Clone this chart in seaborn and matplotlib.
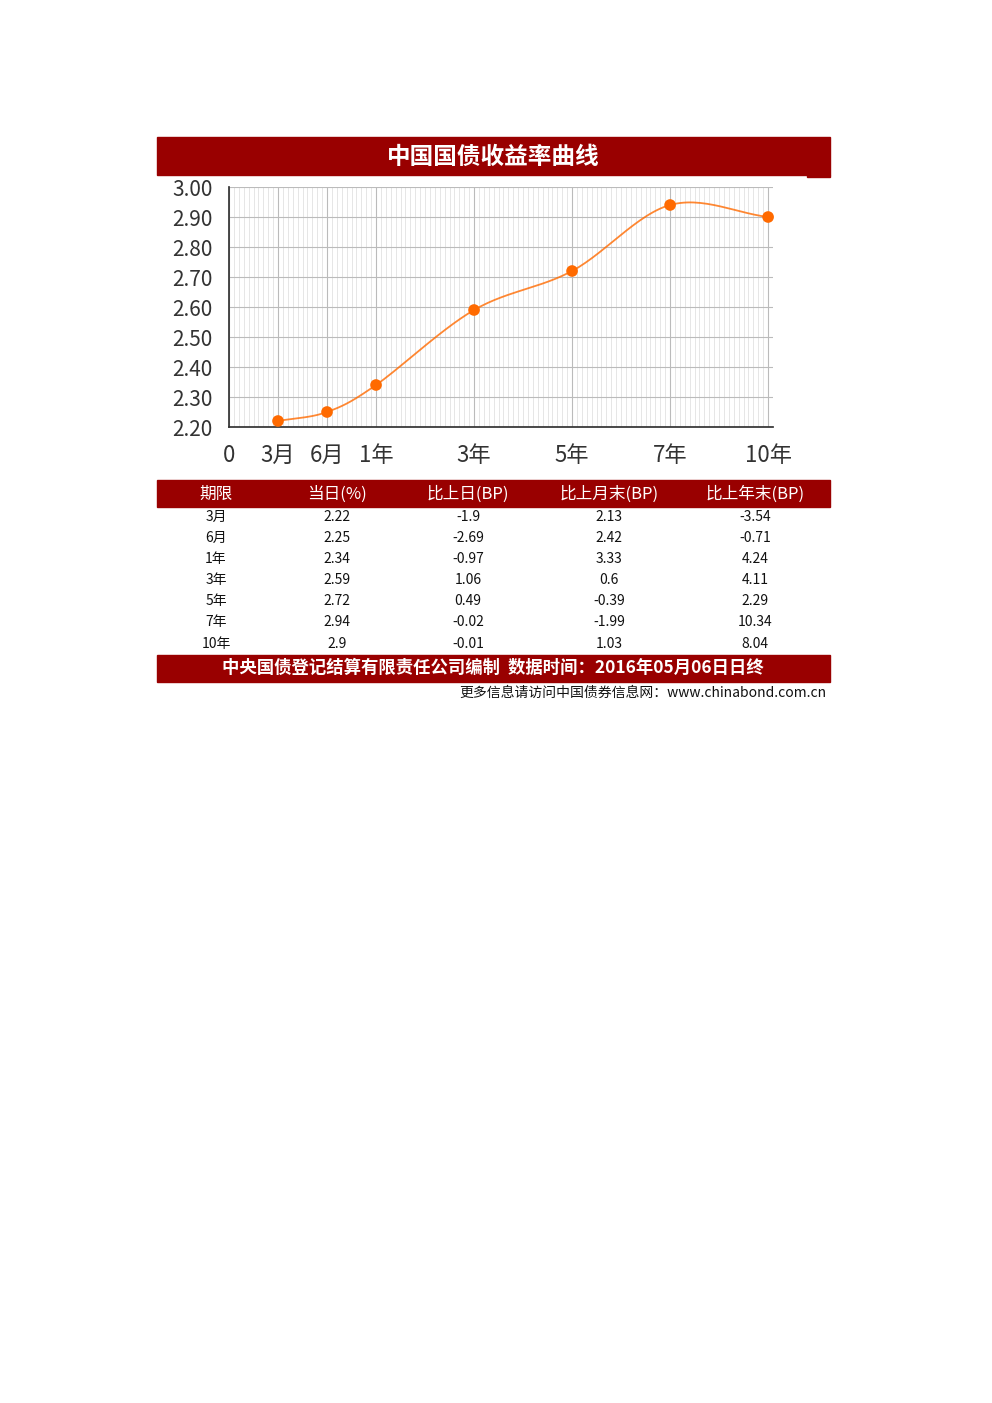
import numpy as np
import matplotlib
matplotlib.use('Agg')
import matplotlib.pyplot as plt
import seaborn as sns
import pandas as pd

terms = ['3月', '6月', '1年', '3年', '5年', '7年', '10年']
term_pos = [1, 2, 3, 5, 7, 9, 11]
yields = [2.22, 2.25, 2.34, 2.59, 2.72, 2.94, 2.90]
vs_day = ['-1.9', '-2.69', '-0.97', '1.06', '0.49', '-0.02', '-0.01']
vs_month = ['2.13', '2.42', '3.33', '0.6', '-0.39', '-1.99', '1.03']
vs_year = ['-3.54', '-0.71', '4.24', '4.11', '2.29', '10.34', '8.04']
headers = ['期限', '当日(%)', '比上日(BP)', '比上月末(BP)', '比上年末(BP)']

sns.set_theme(style='white')
plt.rcParams['font.family'] = ['Noto Sans CJK SC', 'DejaVu Sans']
RED = '#990000'
ORANGE = '#ff6a00'

W, H = 992, 1403
fig = plt.figure(figsize=(W / 100, H / 100), dpi=100)
bg = fig.add_axes([0, 0, 1, 1])
bg.set_xlim(0, W)
bg.set_ylim(H, 0)
bg.axis('off')

# title bar
bg.add_patch(plt.Rectangle((157, 137), 673, 38, color=RED))
bg.add_patch(plt.Rectangle((807, 175), 23, 2, color=RED))
bg.text(493, 157, '中国国债收益率曲线', color='white', fontsize=17, fontweight='bold',
        ha='center', va='center')

# chart axes (pixel box 229..773 x, 187..427 y)
ax = fig.add_axes([229 / W, 1 - 427 / H, (773 - 229) / W, (427 - 187) / H])
ax.set_xlim(0, 11.1)
ax.set_ylim(2.20, 3.00)
ax.set_xticks([0] + term_pos)
ax.set_xticklabels(['0'] + terms, fontsize=16, color='#333333')
ax.set_yticks(np.arange(2.2, 3.001, 0.1))
ax.set_yticklabels([f'{v:.2f}' for v in np.arange(2.2, 3.001, 0.1)], fontsize=15, color='#333333')
ax.set_xticks(np.arange(0, 11.1, 0.1), minor=True)
ax.grid(True, which='major', color='#bbbbbb', lw=0.8)
ax.grid(True, which='minor', axis='x', color='#e2e2e2', lw=0.6)
for s in ['top', 'right']:
    ax.spines[s].set_visible(False)
ax.spines['left'].set_color('#333333')
ax.spines['bottom'].set_color('#333333')
ax.tick_params(axis='both', length=4, color='#333333', pad=8)
ax.tick_params(axis='x', which='minor', length=0)

# smooth Catmull-Rom curve through the data points
px = np.array(term_pos, float)
py = np.array(yields, float)
P = np.vstack([px, py]).T
P = np.vstack([P[0] - (P[1] - P[0]), P, P[-1] + (P[-1] - P[-2])])
xs, ys = [], []
t = np.linspace(0, 1, 30)
for i in range(1, len(P) - 2):
    p0, p1, p2, p3 = P[i - 1], P[i], P[i + 1], P[i + 2]
    seg = 0.5 * ((2 * p1)[None] + np.outer(t, -p0 + p2) + np.outer(t ** 2, 2 * p0 - 5 * p1 + 4 * p2 - p3)
                 + np.outer(t ** 3, -p0 + 3 * p1 - 3 * p2 + p3))
    xs.extend(seg[:, 0]); ys.extend(seg[:, 1])
ax.plot(xs, ys, color=ORANGE, lw=1.3, alpha=0.8)
sns.scatterplot(x=px, y=py, ax=ax, color=ORANGE, s=70, edgecolor='none', zorder=5, clip_on=False)

# table
bg.add_patch(plt.Rectangle((157, 480), 673, 27, color=RED))
col_x = [216, 337, 468, 609, 755]
for x, h in zip(col_x, headers):
    bg.text(x, 494, h, color='white', fontsize=12, ha='center', va='center')
row_y = [517, 538, 559, 580, 601, 622, 644]
for i, y in enumerate(row_y):
    vals = [terms[i], f'{yields[i]:.2f}'.rstrip('0') if i == 6 else f'{yields[i]:.2f}',
            vs_day[i], vs_month[i], vs_year[i]]
    for x, v in zip(col_x, vals):
        bg.text(x, y, v, color='#111111', fontsize=10, ha='center', va='center')

bg.add_patch(plt.Rectangle((157, 655), 673, 27, color=RED))
bg.text(493, 668, '中央国债登记结算有限责任公司编制  数据时间：2016年05月06日日终',
        color='white', fontsize=12.5, fontweight='bold', ha='center', va='center')
bg.text(826, 693, '更多信息请访问中国债券信息网：www.chinabond.com.cn', color='#111111',
        fontsize=10, ha='right', va='center')

fig.savefig('out.png', dpi=100, facecolor='white')
